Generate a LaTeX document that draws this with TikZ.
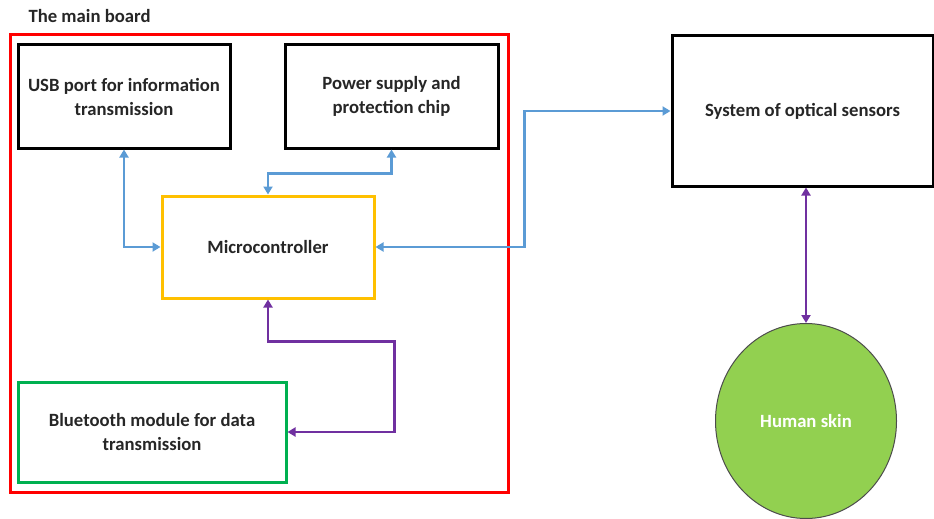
\documentclass[tikz,border=0pt]{standalone}
\usepackage{fontspec}
\setmainfont{Carlito}
\usetikzlibrary{arrows.meta,calc,shapes.geometric}
\definecolor{cblue}{HTML}{5B9BD5}
\definecolor{cpurple}{HTML}{7030A0}
\definecolor{cyellow}{HTML}{FFC000}
\definecolor{cgreen}{HTML}{00B050}
\definecolor{cred}{HTML}{FF0000}
\definecolor{cskin}{HTML}{92D050}
\tikzset{
  txt/.style={font=\bfseries\fontsize{18.7}{24}\selectfont, text=black!85, align=center},
  blk/.style={draw, line width=3pt, txt, inner sep=0pt},
  bconn/.style={draw=cblue, line width=2.5pt, {Triangle[length=8pt,width=9pt]}-{Triangle[length=8pt,width=9pt]}},
  pconn/.style={draw=cpurple, line width=2.5pt, {Triangle[length=8pt,width=9pt]}-{Triangle[length=8pt,width=9pt]}},
}
\begin{document}
\begin{tikzpicture}[x=1pt,y=-1pt]
\useasboundingbox (0,0) rectangle (934,519);
\node[txt, anchor=west] (title) at (25,16) {The main board};
\node[draw=cred, line width=3pt, minimum width=498pt, minimum height=457pt, inner sep=0pt] (board) at (259,263.5) {};
\node[blk, minimum width=212pt, minimum height=103pt] (usb) at (124,96.5) {USB port for information\\transmission};
\node[blk, minimum width=213pt, minimum height=103pt] (power) at (391.5,96.5) {Power supply and\\protection chip};
\node[blk, draw=cyellow, minimum width=212pt, minimum height=102pt] (micro) at (268,247) {Microcontroller};
\node[blk, draw=cgreen, minimum width=268pt, minimum height=100pt] (bt) at (152,432) {Bluetooth module for data\\transmission};
\node[blk, minimum width=261pt, minimum height=150pt] (sensor) at (802.5,111) {System of optical sensors};
\node[draw=black!70, line width=1pt, fill=cskin, ellipse, minimum width=181pt, minimum height=195pt, inner sep=0pt, font=\bfseries\fontsize{18.7}{22}\selectfont, text=white] (skin) at (806,421) {Human skin};
\draw[bconn] (usb.south) |- (micro.west);
\draw[bconn] (power.south) -- ++(0,24) -| (micro.north);
\draw[bconn] (micro.east) -- ++(149,0) |- (sensor.west);
\draw[pconn] (sensor.south -| skin.north) -- (skin.north);
\draw[pconn] (micro.south) -- ++(0,42) -| ([xshift=107pt]bt.east) -- (bt.east);
\end{tikzpicture}
\end{document}
